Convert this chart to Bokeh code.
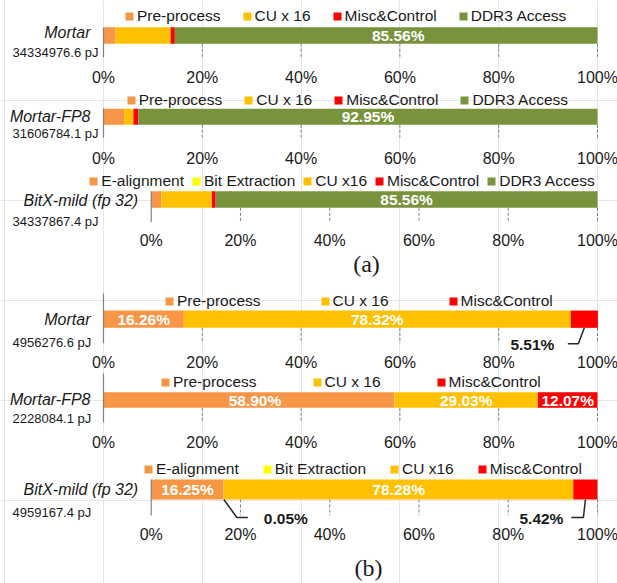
from bokeh.plotting import figure
from bokeh.models import Range1d, Legend, LegendItem, ColumnDataSource
from bokeh.core.properties import value
from bokeh.embed import file_html
from bokeh.resources import INLINE

# ---- data -------------------------------------------------------------
TICKS = [0, 20, 40, 60, 80, 100]
TICK_LABELS = ["0%", "20%", "40%", "60%", "80%", "100%"]

MORTAR_PARTS_A = ["Pre-process", "CU x 16", "Misc&Control", "DDR3 Access"]
BITX_PARTS_A = ["E-alignment", "Bit Extraction", "CU x16", "Misc&Control", "DDR3 Access"]
MORTAR_PARTS_B = ["Pre-process", "CU x 16", "Misc&Control"]
BITX_PARTS_B = ["E-alignment", "Bit Extraction", "CU x16", "Misc&Control"]

ROW_NAMES = ["Mortar", "Mortar-FP8", "BitX-mild (fp 32)"]

# (a) energy breakdown including DRAM traffic, % of total
a_mortar = [2.45, 11.15, 0.84, 85.56]
a_mortar_fp8 = [4.25, 1.80, 1.00, 92.95]
a_bitx = [2.30, 0.01, 11.30, 0.83, 85.56]
a_energy = ["34334976.6 pJ", "31606784.1 pJ", "34337867.4 pJ"]

# (b) on-chip energy breakdown, % of total
b_mortar = [16.26, 78.32, 5.51]
b_mortar_fp8 = [58.90, 29.03, 12.07]
b_bitx = [16.25, 0.05, 78.28, 5.42]
b_energy = ["4956276.6 pJ", "2228084.1 pJ", "4959167.4 pJ"]

COLORS = {
    "Pre-process": "#F79646",
    "E-alignment": "#F79646",
    "CU x 16": "#FFC000",
    "CU x16": "#FFC000",
    "Bit Extraction": "#FFFF00",
    "Misc&Control": "#FF0000",
    "DDR3 Access": "#77933C",
}

# ---- layout -----------------------------------------------------------
W, H = 617, 583
SANS = "Liberation Sans"
TXT = "#1a1a1a"
GRID = "#808080"

# pixel extents of the 0..100 % span for the two kinds of rows
M_LEFT, B_LEFT, RIGHT = 103.0, 150.7, 597.0
m_scale = (RIGHT - M_LEFT) / 100.0
b_scale = (RIGHT - B_LEFT) / 100.0

p = figure(width=W, height=H,
           x_range=Range1d(-M_LEFT / m_scale, 100 + (W - RIGHT) / m_scale),
           y_range=Range1d(H, 0),
           x_axis_location=None, y_axis_location=None,
           min_border=0, output_backend="svg", toolbar_location=None)
p.extra_x_ranges = {"bitx": Range1d(-B_LEFT / b_scale, 100 + (W - RIGHT) / b_scale)}
p.outline_line_color = None
p.background_fill_color = "white"
p.border_fill_color = "white"

# outside labels: (elbow dx, elbow dy, end dx, label dx, align) in pixels
rows = [
    dict(parts=MORTAR_PARTS_A, vals=a_mortar, name=ROW_NAMES[0], energy=a_energy[0],
         rng="default", left=M_LEFT, legend_y=16.7, legend_x=124, spacing=21,
         bar_y=35, bar_h=16.5, zero_top=27, grid_bottom=57, tick_y=77,
         name_y=32, pj_y=52,
         labels=[None, None, None, ("in", 12)]),
    dict(parts=MORTAR_PARTS_A, vals=a_mortar_fp8, name=ROW_NAMES[1], energy=a_energy[1],
         rng="default", left=M_LEFT, legend_y=101, legend_x=125.7, spacing=21,
         bar_y=116.3, bar_h=16, zero_top=108, grid_bottom=137, tick_y=157.7,
         name_y=115.7, pj_y=132.7,
         labels=[None, None, None, ("in", 0)]),
    dict(parts=BITX_PARTS_A, vals=a_bitx, name=ROW_NAMES[2], energy=a_energy[2],
         rng="bitx", left=B_LEFT, legend_y=181.7, legend_x=88.3, spacing=7,
         bar_y=199, bar_h=16.6, zero_top=190.7, grid_bottom=221.7, tick_y=240,
         name_y=200, pj_y=221,
         labels=[None, None, None, None, ("in", 0)]),
    dict(parts=MORTAR_PARTS_B, vals=b_mortar, name=ROW_NAMES[0], energy=b_energy[0],
         rng="default", left=M_LEFT, legend_y=302.3, legend_x=164, spacing=59,
         bar_y=318.7, bar_h=17.3, zero_top=293, grid_bottom=342.7, tick_y=361.7,
         name_y=319, pj_y=341.7,
         labels=[("in", 0), ("in", 0), ("out", -6, 16, -16.5, -30, "right")]),
    dict(parts=MORTAR_PARTS_B, vals=b_mortar_fp8, name=ROW_NAMES[1], energy=b_energy[1],
         rng="default", left=M_LEFT, legend_y=382.7, legend_x=160, spacing=55,
         bar_y=399.5, bar_h=15.6, zero_top=373, grid_bottom=421.7, tick_y=441.7,
         name_y=399, pj_y=418.3,
         labels=[("in", 6), ("in", 0), ("in", 0)]),
    dict(parts=BITX_PARTS_B, vals=b_bitx, name=ROW_NAMES[2], energy=b_energy[2],
         rng="bitx", left=B_LEFT, legend_y=470, legend_x=143, spacing=23,
         bar_y=489, bar_h=20, zero_top=479, grid_bottom=515, tick_y=534,
         name_y=489, pj_y=511.7,
         labels=[("in", 0), ("out", 13, 18, 24, 40, "left"), ("in", 0),
                 ("out", -2, 18, -14, -22, "right")]),
]

LEG_ITEM_H = 16

for row in rows:
    rng = row["rng"]
    scale = m_scale if rng == "default" else b_scale
    kw = {} if rng == "default" else {"x_range_name": rng}
    bar_bottom = row["bar_y"] + row["bar_h"] / 2

    # dashed tick lines under the bar
    grid_x = TICKS[1:]
    p.segment(x0=grid_x, x1=grid_x, y0=[bar_bottom] * len(grid_x),
              y1=[row["grid_bottom"]] * len(grid_x),
              line_color=GRID, line_width=1, line_dash="3 2", **kw)

    # stacked bar
    src = ColumnDataSource({name: [v] for name, v in zip(row["parts"], row["vals"])})
    src.data["y"] = [row["bar_y"]]
    renderers = p.hbar_stack(row["parts"], y="y", height=row["bar_h"],
                             color=[COLORS[n] for n in row["parts"]],
                             line_width=0, source=src, **kw)

    # category axis line at 0 %
    p.segment(x0=[0], x1=[0], y0=[row["zero_top"]], y1=[row["grid_bottom"]],
              line_color=GRID, line_width=1.2, **kw)

    # tick labels
    p.text(x=TICKS, y=[row["tick_y"]] * len(TICKS), text=TICK_LABELS,
           text_font=value(SANS), text_font_size="16px", text_color=TXT,
           text_align="center", text_baseline="middle", **kw)

    # row name and energy total
    p.text(x=[0], y=[row["name_y"]], text=[row["name"]], x_offset=-13,
           text_font=value(SANS), text_font_style="italic", text_font_size="16px",
           text_color=TXT, text_align="right", text_baseline="middle", **kw)
    p.text(x=[0], y=[row["pj_y"]], text=[row["energy"]], x_offset=12 - row["left"],
           text_font=value(SANS), text_font_size="13px", text_color=TXT,
           text_align="left", text_baseline="middle", **kw)

    # value labels
    start = 0.0
    for v, lab in zip(row["vals"], row["labels"]):
        center = start + v / 2
        start += v
        if lab is None:
            continue
        txt = f"{v:.2f}%"
        if lab[0] == "in":
            p.text(x=[center], y=[row["bar_y"]], text=[txt], x_offset=lab[1],
                   text_font=value(SANS), text_font_style="bold", text_font_size="15.5px",
                   text_color="white", text_align="center", text_baseline="middle", **kw)
        else:
            _, ex, ey, endx, lx, align = lab
            ly = bar_bottom + ey
            p.line(x=[center, center + ex / scale, center + endx / scale],
                   y=[bar_bottom, ly, ly], line_color="#262626", line_width=1.5, **kw)
            p.text(x=[center], y=[ly + 0.5], text=[txt], x_offset=lx,
                   text_font=value(SANS), text_font_style="bold", text_font_size="15.5px",
                   text_color=TXT, text_align=align, text_baseline="middle", **kw)

    legend = Legend(
        items=[LegendItem(label=n, renderers=[r]) for n, r in zip(row["parts"], renderers)],
        location=(row["legend_x"], H - row["legend_y"] - LEG_ITEM_H / 2),
        orientation="horizontal", spacing=row["spacing"], padding=0, margin=0,
        glyph_width=10, glyph_height=10, label_standoff=3, label_height=LEG_ITEM_H,
        label_text_font=SANS, label_text_font_size="15.5px", label_text_color=TXT,
        border_line_color=None, background_fill_alpha=0,
    )
    p.add_layout(legend)

# panel captions
p.text(x=[(366 - M_LEFT) / m_scale], y=[263], text=["(a)"],
       text_font=value("Liberation Serif"), text_font_size="24px", text_color=TXT,
       text_align="center", text_baseline="middle")
p.text(x=[(368 - M_LEFT) / m_scale], y=[567], text=["(b)"],
       text_font=value("Liberation Serif"), text_font_size="24px", text_color=TXT,
       text_align="center", text_baseline="middle")

open("out.html", "w").write(file_html(p, INLINE))
